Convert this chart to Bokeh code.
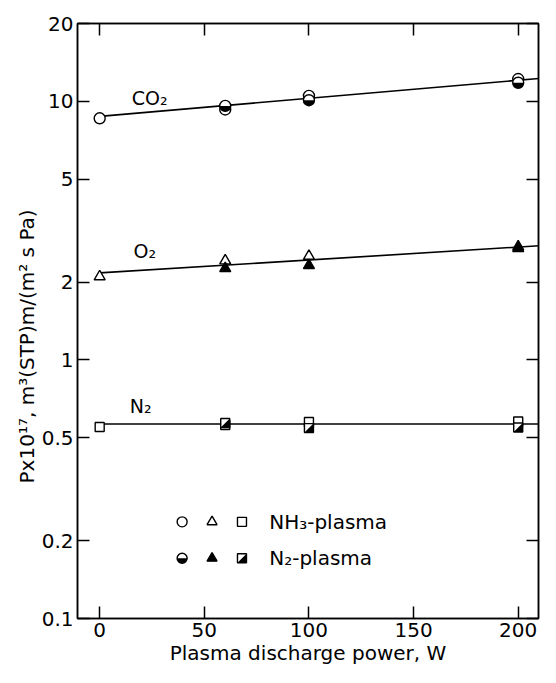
import math
from bokeh.plotting import figure
from bokeh.models import (LinearAxis, LogAxis, FixedTicker, Range1d, Label,
                          CustomLabelingPolicy)
from bokeh.core.properties import value
from bokeh.embed import file_html
from bokeh.resources import INLINE

# ---- data ----
power = [0, 60, 100, 200]                 # W, NH3-plasma treated membranes
co2_nh3 = [8.6, 9.3, 10.5, 12.2]
o2_nh3 = [2.10, 2.42, 2.52, 2.74]
n2_nh3 = [0.55, 0.56, 0.575, 0.578]

power_n2 = [60, 100, 200]                 # W, N2-plasma treated membranes
co2_n2 = [9.6, 10.1, 11.8]
o2_n2 = [2.26, 2.32, 2.70]
n2_n2 = [0.57, 0.545, 0.548]

fit_x = [0, 212]                          # fitted lines
co2_fit = [8.75, 12.3]
o2_fit = [2.17, 2.77]
n2_fit = [0.565, 0.565]

x_ticks = [0, 50, 100, 150, 200]
y_ticks = [0.1, 0.2, 0.5, 1, 2, 5, 10, 20]
y_tick_labels = ["0.1", "0.2", "0.5", "1", "2", "5", "10", "20"]

gas_labels = ["CO\u2082", "O\u2082", "N\u2082"]
legend_labels = ["NH\u2083-plasma", "N\u2082-plasma"]

FONT = "DejaVu Sans"
W, H = 540, 667
BL, BR, BT, BB = 77, 2, 23, 48
X0, X1 = -10.6, 209.7
Y0, Y1 = 0.1, 20

p = figure(width=W, height=H,
           x_range=Range1d(X0, X1), y_range=Range1d(Y0, Y1),
           y_axis_type="log", output_backend="svg", toolbar_location=None,
           min_border_left=BL, min_border_right=BR, min_border_top=BT,
           min_border_bottom=BB)
p.grid.visible = False
p.outline_line_color = "black"
p.outline_line_width = 1.5
p.background_fill_color = "white"
p.border_fill_color = "white"

no_labels = CustomLabelingPolicy(code="""
    const all = [...indices]
    for (const i of all) indices.unset(i)
    return indices
""")


def style_axis(ax, show_labels=True):
    ax.major_tick_in = 12
    ax.major_tick_out = 0
    ax.minor_tick_line_color = None
    ax.axis_line_color = "black"
    ax.axis_line_width = 1.5
    ax.major_tick_line_width = 1.5
    ax.major_tick_line_color = "black"
    ax.major_label_text_font = FONT
    ax.major_label_text_color = "black"
    if show_labels:
        ax.major_label_text_font_size = "20px"
    else:
        ax.major_label_text_font_size = "0px"
        ax.major_label_policy = no_labels
        ax.major_label_standoff = 0


xa = p.xaxis[0]
xa.ticker = FixedTicker(ticks=x_ticks)
style_axis(xa)
xa.major_label_standoff = 4
xa.axis_label = "Plasma discharge power, W"
xa.axis_label_text_font = FONT
xa.axis_label_text_font_size = "20px"
xa.axis_label_text_font_style = "normal"
xa.axis_label_text_color = "black"
xa.axis_label_standoff = 1

ya = p.yaxis[0]
ya.ticker = FixedTicker(ticks=y_ticks)
ya.major_label_overrides = dict(zip(y_ticks, y_tick_labels))
style_axis(ya)
ya.major_label_standoff = 4
# trailing no-break spaces move the visible title a little lower, as in the original
ya.axis_label = "Px10\u00b9\u2077, m\u00b3(STP)m/(m\u00b2 s Pa)" + "\u00a0" * 8
ya.axis_label_text_font = FONT
ya.axis_label_text_font_size = "20px"
ya.axis_label_text_font_style = "normal"
ya.axis_label_text_color = "black"
ya.axis_label_standoff = 0

top = LinearAxis(ticker=FixedTicker(ticks=x_ticks))
style_axis(top, False)
p.add_layout(top, "above")

right = LogAxis(ticker=FixedTicker(ticks=y_ticks))
style_axis(right, False)
p.add_layout(right, "right")

# fitted lines
for fy in (co2_fit, o2_fit, n2_fit):
    p.line(fit_x, fy, line_color="black", line_width=1.6)

LW = 1.4
# NH3-plasma: open markers
p.scatter(power, co2_nh3, marker="circle", size=11, fill_color="white",
          line_color="black", line_width=LW)
p.scatter(power, o2_nh3, marker="triangle", size=11, fill_color="white",
          line_color="black", line_width=LW)
p.scatter(power, n2_nh3, marker="square", size=9, fill_color="white",
          line_color="black", line_width=LW)

# pixel scale of the frame, used to shape the half-filled square markers
frame_w = W - BL - BR
frame_h = H - BT - BB
px_per_x = frame_w / (X1 - X0)
px_per_decade = frame_h / (math.log10(Y1) - math.log10(Y0))


def half_circle(xs, ys, size):
    p.scatter(xs, ys, marker="circle", size=size, fill_color="white",
              line_color=None)
    p.wedge(xs, ys, radius=size / 2, radius_units="screen",
            start_angle=math.pi, end_angle=2 * math.pi,
            fill_color="black", line_color=None)
    p.scatter(xs, ys, marker="circle", size=size, fill_alpha=0,
              line_color="black", line_width=LW)


def half_square(xs, ys, size):
    p.scatter(xs, ys, marker="square", size=size, fill_color="white",
              line_color=None)
    h = size / 2
    dx = h / px_per_x
    f = 10 ** (h / px_per_decade)
    tri_x = [[x - dx, x + dx, x + dx] for x in xs]
    tri_y = [[y / f, y / f, y * f] for y in ys]
    p.patches(tri_x, tri_y, fill_color="black", line_color=None)
    p.scatter(xs, ys, marker="square", size=size, fill_alpha=0,
              line_color="black", line_width=LW)


# N2-plasma: filled / half filled markers
half_circle(power_n2, co2_n2, 11)
p.scatter(power_n2, o2_n2, marker="triangle", size=11, fill_color="black",
          line_color="black", line_width=LW)
half_square(power_n2, n2_n2, 9)

# gas annotations
for txt, gx, gy in zip(gas_labels, [15.3, 16.2, 14.4], [10.26, 2.63, 0.662]):
    p.add_layout(Label(x=gx, y=gy, text=txt, text_font=FONT,
                       text_font_size="19px", text_align="left",
                       text_baseline="middle", text_color="black"))

# legend drawn inside the plot
leg_mx = [39.4, 53.7, 68.0]
leg_y = [0.2365, 0.171]
leg_tx = 81
p.scatter([leg_mx[0]], [leg_y[0]], marker="circle", size=10, fill_color="white",
          line_color="black", line_width=LW)
p.scatter([leg_mx[1]], [leg_y[0]], marker="triangle", size=10, fill_color="white",
          line_color="black", line_width=LW)
p.scatter([leg_mx[2]], [leg_y[0]], marker="square", size=9, fill_color="white",
          line_color="black", line_width=LW)
half_circle([leg_mx[0]], [leg_y[1]], 10)
p.scatter([leg_mx[1]], [leg_y[1]], marker="triangle", size=10, fill_color="black",
          line_color="black", line_width=LW)
half_square([leg_mx[2]], [leg_y[1]], 9)
p.text([leg_tx, leg_tx], leg_y, text=legend_labels, text_font=value(FONT),
       text_font_size="20px", text_align="left", text_baseline="middle",
       text_color="black")

open("out.html", "w").write(file_html(p, INLINE))
